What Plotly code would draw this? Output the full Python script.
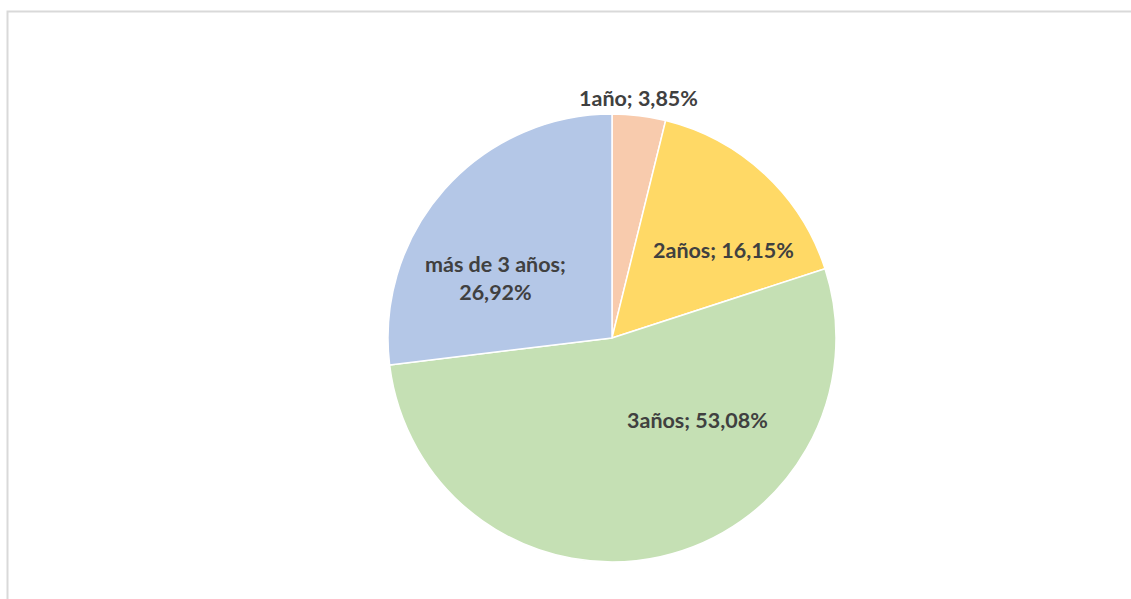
import plotly.graph_objects as go

labels = ["1año", "2años", "3años", "más de 3 años"]
values = [3.85, 16.15, 53.08, 26.92]
colors = ["#F8CBAD", "#FFD966", "#C5E0B4", "#B4C7E7"]
label_texts = ["1año; 3,85%", "2años; 16,15%", "3años; 53,08%", "más de 3 años;<br>26,92%"]

W, H = 1131, 599
cx, cy, R = 612, 338, 224

fig = go.Figure(go.Pie(
    labels=labels, values=values, sort=False, direction="clockwise", rotation=0,
    marker=dict(colors=colors, line=dict(color="white", width=1.5)),
    textinfo="none", hoverinfo="label+percent", showlegend=False,
    domain=dict(x=[(cx - R) / W, (cx + R) / W], y=[(H - cy - R) / H, (H - cy + R) / H]),
))

# label positions in pixels (layout only)
label_pos = [(638, 98), (723, 250), (697, 420), (495, 278)]
for t, (px, py) in zip(label_texts, label_pos):
    fig.add_annotation(x=px / W, y=1 - py / H, xref="paper", yref="paper", text=t,
                       showarrow=False, xanchor="center", yanchor="middle",
                       font=dict(family="Lato", size=21.5, color="#404040", weight="bold"),
                       align="center")

fig.add_shape(type="rect", xref="paper", yref="paper",
              x0=7.5 / W, x1=1.02, y0=-0.02, y1=1 - 11.5 / H,
              line=dict(color="#D9D9D9", width=2), fillcolor="rgba(0,0,0,0)")

fig.update_layout(width=W, height=H, margin=dict(l=0, r=0, t=0, b=0),
                  paper_bgcolor="white", plot_bgcolor="white")
fig.write_html("out.html", config={"displayModeBar": False},
               post_script="document.body.style.margin='0';document.body.style.overflow='hidden';")
